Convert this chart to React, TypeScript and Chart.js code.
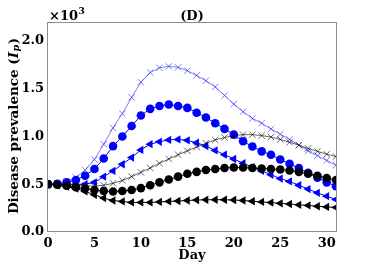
import { useEffect, useRef } from "react";
import { Chart, registerables } from "chart.js";
Chart.register(...registerables);

const days = [0, 1, 2, 3, 4, 5, 6, 7, 8, 9, 10, 11, 12, 13, 14, 15, 16, 17, 18, 19, 20, 21, 22, 23, 24, 25, 26, 27, 28, 29, 30, 31];

// values in units of 10^3
const blueCross = [0.5, 0.51, 0.53, 0.57, 0.65, 0.76, 0.92, 1.09, 1.24, 1.41, 1.57, 1.67, 1.72, 1.735, 1.725, 1.69, 1.64, 1.585, 1.52, 1.43, 1.34, 1.26, 1.19, 1.14, 1.08, 1.025, 0.97, 0.91, 0.85, 0.8, 0.75, 0.7];
const blueCircle = [0.5, 0.505, 0.52, 0.545, 0.59, 0.66, 0.77, 0.9, 1.0, 1.11, 1.22, 1.29, 1.32, 1.335, 1.32, 1.3, 1.25, 1.2, 1.14, 1.08, 1.02, 0.95, 0.895, 0.845, 0.81, 0.76, 0.715, 0.67, 0.62, 0.57, 0.52, 0.48];
const blueTriangle = [0.5, 0.5, 0.5, 0.5, 0.5, 0.52, 0.58, 0.64, 0.71, 0.78, 0.86, 0.92, 0.945, 0.965, 0.97, 0.96, 0.935, 0.9, 0.855, 0.81, 0.765, 0.72, 0.68, 0.64, 0.6, 0.56, 0.53, 0.49, 0.45, 0.41, 0.375, 0.34];
const blackCross = [0.5, 0.5, 0.495, 0.49, 0.485, 0.48, 0.49, 0.51, 0.54, 0.58, 0.625, 0.67, 0.72, 0.765, 0.81, 0.85, 0.89, 0.93, 0.965, 0.99, 1.01, 1.02, 1.02, 1.01, 0.995, 0.97, 0.94, 0.91, 0.875, 0.845, 0.815, 0.79];
const blackCircle = [0.5, 0.495, 0.485, 0.47, 0.455, 0.44, 0.43, 0.425, 0.43, 0.44, 0.46, 0.49, 0.52, 0.55, 0.58, 0.61, 0.63, 0.65, 0.66, 0.67, 0.675, 0.675, 0.67, 0.665, 0.66, 0.655, 0.645, 0.63, 0.61, 0.59, 0.565, 0.545];
const blackTriangle = [0.5, 0.49, 0.475, 0.455, 0.425, 0.39, 0.355, 0.33, 0.32, 0.31, 0.31, 0.31, 0.315, 0.32, 0.325, 0.33, 0.335, 0.338, 0.338, 0.338, 0.335, 0.33, 0.322, 0.315, 0.308, 0.3, 0.293, 0.285, 0.278, 0.27, 0.263, 0.256];

const xTicks = [0, 5, 10, 15, 20, 25, 30];
const yTicks = [0, 0.5, 1.0, 1.5, 2.0];
const yTickLabels = ["0.0", "0.5", "1.0", "1.5", "2.0"];

const titleText = "(D)";
const xTitle = "Day";
const yTitleMain = "Disease prevalence (";
const yTitleVar = "I";
const yTitleSub = "p";
const yTitleEnd = ")";
const scaleText = "\u00d710";
const scaleExp = "3";

const FONT = "'DejaVu Serif', serif";

function pts(vals: number[]) {
  return days.map((d, i) => ({ x: d, y: vals[i] }));
}

const decorPlugin = {
  id: "decor",
  afterDraw(chart: any) {
    const ctx = chart.ctx as CanvasRenderingContext2D;
    const a = chart.chartArea;
    ctx.save();
    // frame
    ctx.strokeStyle = "#8c8c8c";
    ctx.lineWidth = 1;
    ctx.strokeRect(Math.round(a.left) - 0.5, Math.round(a.top) + 0.5, Math.round(a.right - a.left) + 1, Math.round(a.bottom - a.top) - 1);
    ctx.fillStyle = "#000";
    // title
    ctx.font = `bold 13px ${FONT}`;
    ctx.textAlign = "center";
    ctx.textBaseline = "alphabetic";
    ctx.fillText(titleText, (a.left + a.right) / 2, 20);
    // x title
    ctx.fillText(xTitle, (a.left + a.right) / 2, 259);
    // scale text
    ctx.textAlign = "left";
    ctx.font = `bold 13px ${FONT}`;
    ctx.fillText(scaleText, 49, 20);
    const w = ctx.measureText(scaleText).width;
    ctx.font = `bold 9px ${FONT}`;
    ctx.fillText(scaleExp, 49 + w + 0.5, 14);
    // y title
    ctx.translate(14, 126);
    ctx.rotate(-Math.PI / 2);
    ctx.textBaseline = "middle";
    const fMain = `bold 13.5px ${FONT}`;
    const fVar = `italic bold 13.5px ${FONT}`;
    const fSub = `italic bold 9.5px ${FONT}`;
    ctx.font = fMain;
    const w1 = ctx.measureText(yTitleMain).width;
    const w4 = ctx.measureText(yTitleEnd).width;
    ctx.font = fVar;
    const w2 = ctx.measureText(yTitleVar).width;
    ctx.font = fSub;
    const w3 = ctx.measureText(yTitleSub).width;
    let x = -(w1 + w2 + w3 + w4 + 1) / 2;
    ctx.font = fMain;
    ctx.fillText(yTitleMain, x, 0);
    x += w1;
    ctx.font = fVar;
    ctx.fillText(yTitleVar, x, 0);
    x += w2 + 0.5;
    ctx.font = fSub;
    ctx.fillText(yTitleSub, x, 3);
    x += w3 + 0.5;
    ctx.font = fMain;
    ctx.fillText(yTitleEnd, x, 0);
    ctx.restore();
  },
};

export default function App() {
  const ref = useRef<HTMLCanvasElement | null>(null);
  useEffect(() => {
    if (!ref.current) return;
    const blue = "#0000ff";
    const blueA = "rgba(40,40,255,0.6)";
    const black = "#000000";
    const blackA = "rgba(0,0,0,0.6)";
    const mk = (label: string, vals: number[], color: string, style: string, radius: number, order: number, rotation = 0) => ({
      label,
      data: pts(vals),
      borderColor: color,
      backgroundColor: color,
      pointBorderColor: color,
      pointBackgroundColor: color,
      borderWidth: 1,
      pointStyle: style,
      pointRadius: radius,
      pointBorderWidth: style === "crossRot" ? 1 : 0,
      pointRotation: rotation,
      tension: 0,
      order,
    });
    const chart = new Chart(ref.current, {
      type: "line",
      data: {
        datasets: [
          mk("blue x", blueCross, blueA, "crossRot", 4.5, 6),
          mk("blue o", blueCircle, blue, "circle", 4.3, 5),
          mk("blue <", blueTriangle, blue, "triangle", 4.8, 4, -90),
          mk("black x", blackCross, blackA, "crossRot", 4.5, 3),
          mk("black o", blackCircle, black, "circle", 4.3, 2),
          mk("black <", blackTriangle, black, "triangle", 4.8, 1, -90),
        ] as any,
      },
      options: {
        responsive: false,
        animation: false,
        devicePixelRatio: 1,
        layout: { padding: { left: 0, top: 22, right: 38, bottom: 0 } },
        plugins: { legend: { display: false }, title: { display: false }, tooltip: { enabled: false } },
        scales: {
          x: {
            type: "linear",
            min: 0,
            max: 31,
            grid: { display: false, drawTicks: false },
            border: { display: false },
            afterBuildTicks: (s: any) => {
              s.ticks = xTicks.map((v) => ({ value: v }));
            },
            afterFit: (s: any) => {
              s.height = 41;
            },
            ticks: {
              padding: 4,
              color: "#000",
              maxRotation: 0,
              font: { family: FONT, weight: "bold", size: 13 },
              callback: (v: any) => String(v),
            },
          },
          y: {
            type: "linear",
            min: 0,
            max: 2.2,
            grid: { display: false, drawTicks: false },
            border: { display: false },
            afterBuildTicks: (s: any) => {
              s.ticks = yTicks.map((v) => ({ value: v }));
            },
            afterFit: (s: any) => {
              s.width = 48;
            },
            ticks: {
              padding: 4,
              color: "#000",
              font: { family: FONT, weight: "bold", size: 13 },
              callback: (v: any) => {
                const i = yTicks.indexOf(Number(v));
                return i >= 0 ? yTickLabels[i] : "";
              },
            },
          },
        },
      } as any,
      plugins: [decorPlugin],
    });
    return () => chart.destroy();
  }, []);
  return (
    <div style={{ position: "fixed", left: 0, top: 0, width: 374, height: 273, background: "#fff" }}>
      <canvas ref={ref} width={374} height={273} style={{ width: 374, height: 273, display: "block" }} />
    </div>
  );
}
